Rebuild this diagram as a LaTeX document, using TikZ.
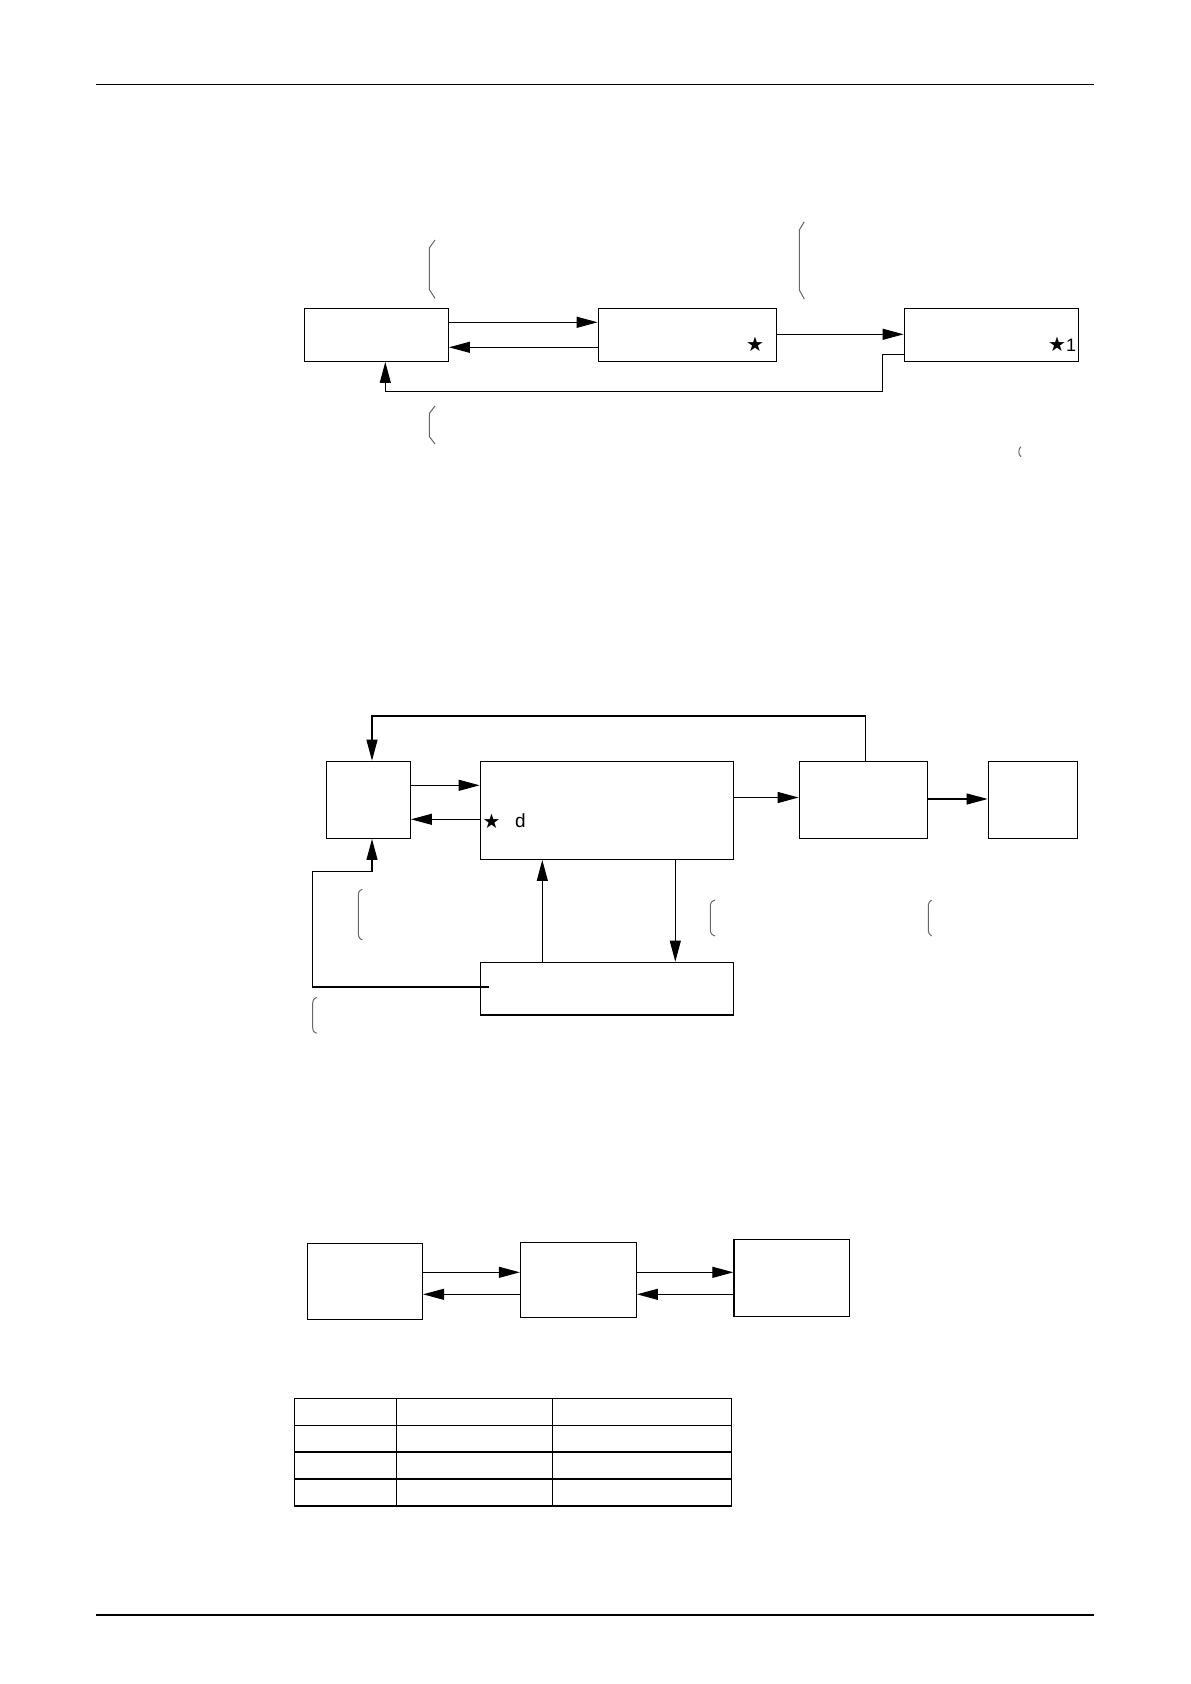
\documentclass[tikz,border=0pt]{standalone}
\usepackage{fontspec}
\setmainfont{Liberation Sans}
\newfontfamily\symf{DejaVu Sans}
\usetikzlibrary{arrows.meta,fit,calc}
\tikzset{
  box/.style={draw, line width=0.65pt, inner sep=0pt, fit={#1}},
  conn/.style={line width=0.55pt},
  arr/.style={conn, -{Triangle[length=10.5pt,width=5.5pt]}},
  brk/.style={draw=black!60, line width=0.5pt},
  rule/.style={line width=0.7pt},
  lbl/.style={inner sep=0pt, font=\fontsize{9}{10}\selectfont},
}
\begin{document}
\begin{tikzpicture}[x=0.5pt,y=-0.5pt]
\useasboundingbox (0,0) rectangle (1190,1684);
% header / footer rules
\coordinate (hl) at (96,84.3); \coordinate (hr) at (1094,84.3);
\coordinate (fl) at (96,1615); \coordinate (fr) at (1094,1615);
\draw[rule] (hl) -- (hr);
\draw[rule] (fl) -- (fr);

% ---------- section 1 ----------
\node[box={(304.3,308.3)(448.3,361.3)}] (A) {};
\node[box={(598.3,308.3)(776.3,361.3)}] (B) {};
\node[box={(904.3,308.3)(1078.7,361.3)}] (C) {};
\coordinate (y1a) at (0,322.3);
\coordinate (y1b) at (0,347.3);
\coordinate (y1c) at (0,334.3);
\coordinate (y1d) at (0,354.3);
\coordinate (fb1) at (882.7,391.3);
\coordinate (xA) at (385.3,0);
\draw[arr] (A.east |- y1a) -- (B.west |- y1a);
\draw[arr] (B.west |- y1b) -- (A.east |- y1b);
\draw[arr] (B.east |- y1c) -- (C.west |- y1c);
\draw[arr] (C.west |- y1d) -| (fb1) -| (A.south -| xA);
\node[lbl, font=\symf\fontsize{10}{11}\selectfont] (s1) at (755,344.2) {★};
\node[lbl, anchor=east] (s2) at (1076.5,344.2) {{\symf\fontsize{10}{11}\selectfont ★}\fontsize{9}{10}\selectfont 1};
% brackets
\draw[brk] (435,240) -- (429.3,248) -- (429.3,289.5) -- (435,298.3);
\draw[brk] (435,406) -- (429.3,413.5) -- (429.3,436.5) -- (435,444);
\draw[brk] (804.3,221.7) -- (799.3,230) -- (799.3,290) -- (804.3,299);
\draw[brk] (1021,446.7) .. controls (1018,449) and (1018,454.5) .. (1021,456.7);

% ---------- section 2 ----------
\node[box={(326.3,761.3)(410.3,838.3)}] (D) {};
\node[box={(480.3,761.3)(733.3,859.3)}] (E) {};
\node[box={(799.3,761.3)(927.3,838.3)}] (F) {};
\node[box={(988.3,761.3)(1077.7,838.3)}] (H) {};
\node[box={(480.3,962.3)(733.3,1015)}] (G) {};
\coordinate (y2a) at (0,785.3);
\coordinate (y2b) at (0,819.3);
\coordinate (y2c) at (0,797.5);
\coordinate (y2d) at (0,799);
\coordinate (y2g) at (0,987);
\coordinate (xD) at (372,0);
\coordinate (xF) at (865.3,0);
\coordinate (top2) at (865.3,716);
\coordinate (lft2) at (312.3,871.3);
\coordinate (xGE) at (542.3,0);
\coordinate (xEG) at (675.3,0);
\draw[arr] (D.east |- y2a) -- (E.west |- y2a);
\draw[arr] (E.west |- y2b) -- (D.east |- y2b);
\draw[arr] (E.east |- y2c) -- (F.west |- y2c);
\draw[arr] (F.east |- y2d) -- (H.west |- y2d);
\draw[arr] (F.north -| xF) -- (top2) -| (D.north -| xD);
\draw[arr] ($(G.west |- y2g)+(9.7,0)$) -| (lft2) -| (D.south -| xD);
\draw[arr] (G.north -| xGE) -- (E.south -| xGE);
\draw[arr] (E.south -| xEG) -- (G.north -| xEG);
\node[lbl, font=\symf\fontsize{10}{11}\selectfont] (s3) at (491.5,821.2) {★};
\node[lbl, font=\fontsize{9.5}{10}\selectfont] (d) at (520.5,820.5) {d};
% brackets
\draw[brk] (362.3,889.3) .. controls (359,891) .. (358.3,895) -- (358.3,934) .. controls (359,938) .. (362.3,940);
\draw[brk] (715,900) .. controls (711,902) .. (710.3,905) -- (710.3,931) .. controls (711,934) .. (715,936);
\draw[brk] (931.7,900) .. controls (929,902) .. (928.3,905) -- (928.3,931) .. controls (929,934) .. (931.7,936);
\draw[brk] (316.7,997.3) .. controls (313.5,999) .. (312.7,1003) -- (312.7,1028) .. controls (313.5,1032) .. (316.7,1033.3);

% ---------- section 3 ----------
\node[box={(307.4,1243.3)(422.4,1319.3)}] (I) {};
\node[box={(520.5,1242.3)(636.3,1317.3)}] (J) {};
\node[box={(734,1239.3)(849.4,1316.3)}] (K) {};
\coordinate (y3a) at (0,1272.3);
\coordinate (y3b) at (0,1294.3);
\draw[arr] (I.east |- y3a) -- (J.west |- y3a);
\draw[arr] (J.west |- y3b) -- (I.east |- y3b);
\draw[arr] (J.east |- y3a) -- (K.west |- y3a);
\draw[arr] (K.west |- y3b) -- (J.east |- y3b);

% ---------- table ----------
\draw[line width=0.7pt] (294.3,1398.3) rectangle (731.3,1506);
\foreach \yy in {1425.3,1452,1479} \draw[line width=0.7pt] (294.3,\yy) -- (731.3,\yy);
\foreach \xx in {396.3,552.3} \draw[line width=0.7pt] (\xx,1398.3) -- (\xx,1506);
\end{tikzpicture}
\end{document}
